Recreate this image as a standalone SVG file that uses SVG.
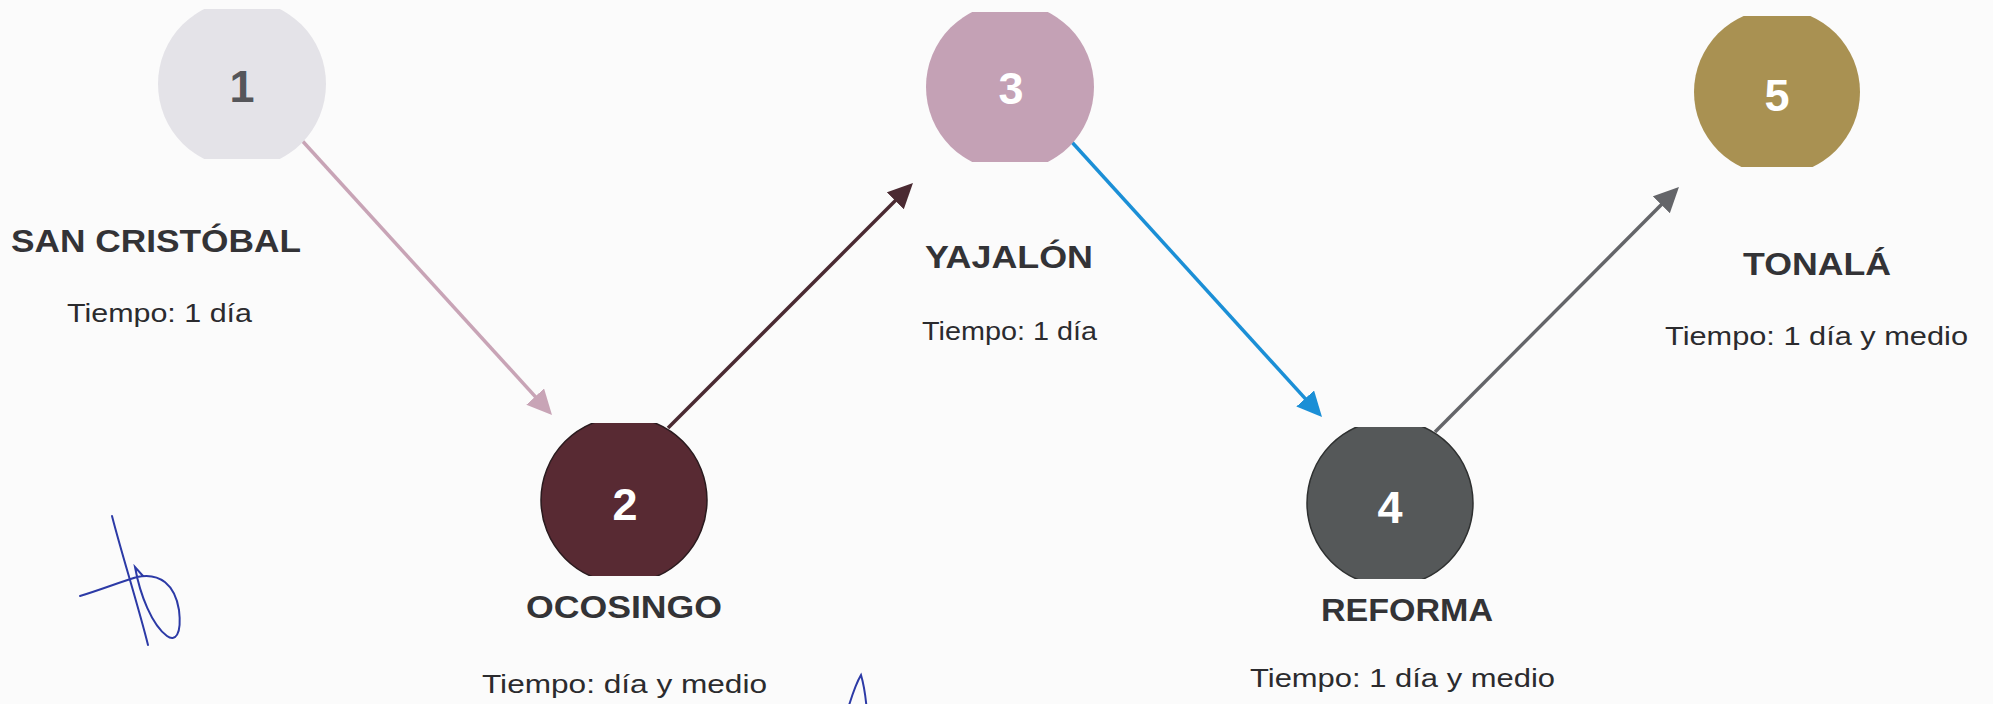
<svg xmlns="http://www.w3.org/2000/svg" width="1993" height="704" viewBox="0 0 1993 704">
<style>
.title{font-family:"Liberation Sans",Arial,sans-serif;font-weight:bold;font-size:31px;fill:#333336;text-anchor:start}
.time{font-family:"Liberation Sans",Arial,sans-serif;font-size:25px;fill:#2b2b2e;text-anchor:start}
.num{font-family:"Liberation Sans",Arial,sans-serif;font-weight:bold;font-size:45px;fill:#ffffff;text-anchor:middle}
.conn{fill:none;stroke-width:3.5}
.sig{fill:none;stroke:#2c3aa6;stroke-width:2;stroke-linecap:round}
</style>
<defs>
<marker id="mA" markerUnits="userSpaceOnUse" markerWidth="28" markerHeight="28" refX="14" refY="12" orient="auto"><path d="M0,0 L25,12 L0,24 z" fill="#c8a4b6"/></marker>
<marker id="mB" markerUnits="userSpaceOnUse" markerWidth="28" markerHeight="28" refX="14" refY="12" orient="auto"><path d="M0,0 L25,12 L0,24 z" fill="#4a2a32"/></marker>
<marker id="mC" markerUnits="userSpaceOnUse" markerWidth="28" markerHeight="28" refX="14" refY="12" orient="auto"><path d="M0,0 L25,12 L0,24 z" fill="#1b8fd6"/></marker>
<marker id="mD" markerUnits="userSpaceOnUse" markerWidth="28" markerHeight="28" refX="14" refY="12" orient="auto"><path d="M0,0 L25,12 L0,24 z" fill="#646569"/></marker>
<clipPath id="c1"><rect x="150" y="9" width="190" height="150"/></clipPath>
<clipPath id="c2"><rect x="530" y="423" width="190" height="153"/></clipPath>
<clipPath id="c3"><rect x="915" y="12" width="190" height="150"/></clipPath>
<clipPath id="c4"><rect x="1295" y="427" width="190" height="152"/></clipPath>
<clipPath id="c5"><rect x="1685" y="16" width="190" height="151"/></clipPath>
</defs>
<rect width="1993" height="704" fill="#fbfbfb"/>

<g id="connectors">
<line class="conn" x1="297" y1="135" x2="544.6" y2="406.9" stroke="#c8a4b6" marker-end="url(#mA)"/>
<line class="conn" x1="668" y1="428" x2="905.2" y2="190.8" stroke="#4a2a32" marker-end="url(#mB)"/>
<line class="conn" x1="1070" y1="140" x2="1314.6" y2="408.9" stroke="#1b8fd6" marker-end="url(#mC)"/>
<line class="conn" x1="1435" y1="432" x2="1671.2" y2="194.8" stroke="#646569" marker-end="url(#mD)"/>
</g>

<g id="node1">
<circle cx="242" cy="84" r="84" fill="#e4e3e8" clip-path="url(#c1)"/>
<text class="num" x="242" y="102" style="fill:#55565a">1</text>
<text class="title" x="11" y="252" textLength="290" lengthAdjust="spacingAndGlyphs">SAN CRISTÓBAL</text>
<text class="time" x="67" y="322" textLength="185" lengthAdjust="spacingAndGlyphs">Tiempo: 1 día</text>
</g>

<g id="node2">
<circle cx="624" cy="500" r="83" fill="#582a33" stroke="#2a1a1e" stroke-width="1.5" clip-path="url(#c2)"/>
<text class="num" x="625" y="520">2</text>
<text class="title" x="526" y="618" textLength="196" lengthAdjust="spacingAndGlyphs">OCOSINGO</text>
<text class="time" x="482" y="693" textLength="285" lengthAdjust="spacingAndGlyphs">Tiempo: día y medio</text>
</g>

<g id="node3">
<circle cx="1010" cy="87" r="84" fill="#c4a1b5" clip-path="url(#c3)"/>
<text class="num" x="1011" y="104">3</text>
<text class="title" x="925" y="268" textLength="168" lengthAdjust="spacingAndGlyphs">YAJALÓN</text>
<text class="time" x="922" y="340" textLength="175" lengthAdjust="spacingAndGlyphs">Tiempo: 1 día</text>
</g>

<g id="node4">
<circle cx="1390" cy="503" r="83" fill="#555859" stroke="#2e3030" stroke-width="1.5" clip-path="url(#c4)"/>
<text class="num" x="1390" y="523">4</text>
<text class="title" x="1321" y="621" textLength="172" lengthAdjust="spacingAndGlyphs">REFORMA</text>
<text class="time" x="1250" y="687" textLength="305" lengthAdjust="spacingAndGlyphs">Tiempo: 1 día y medio</text>
</g>

<g id="node5">
<circle cx="1777" cy="92" r="83" fill="#a99152" clip-path="url(#c5)"/>
<text class="num" x="1777" y="111">5</text>
<text class="title" x="1743" y="275" textLength="148" lengthAdjust="spacingAndGlyphs">TONALÁ</text>
<text class="time" x="1665" y="345" textLength="303" lengthAdjust="spacingAndGlyphs">Tiempo: 1 día y medio</text>
</g>

<g id="signature">
<path class="sig" d="M112,516 C122,555 138,605 148,645"/>
<path class="sig" d="M80,596 C100,590 120,582 137,577 C160,572 175,585 179,610 C182,635 175,642 167,636 C152,625 140,595 135,567 L143,576"/>
<path class="sig" d="M847,712 C852,695 858,680 861,675 C864,685 866,700 867,712"/>
</g>
</svg>
